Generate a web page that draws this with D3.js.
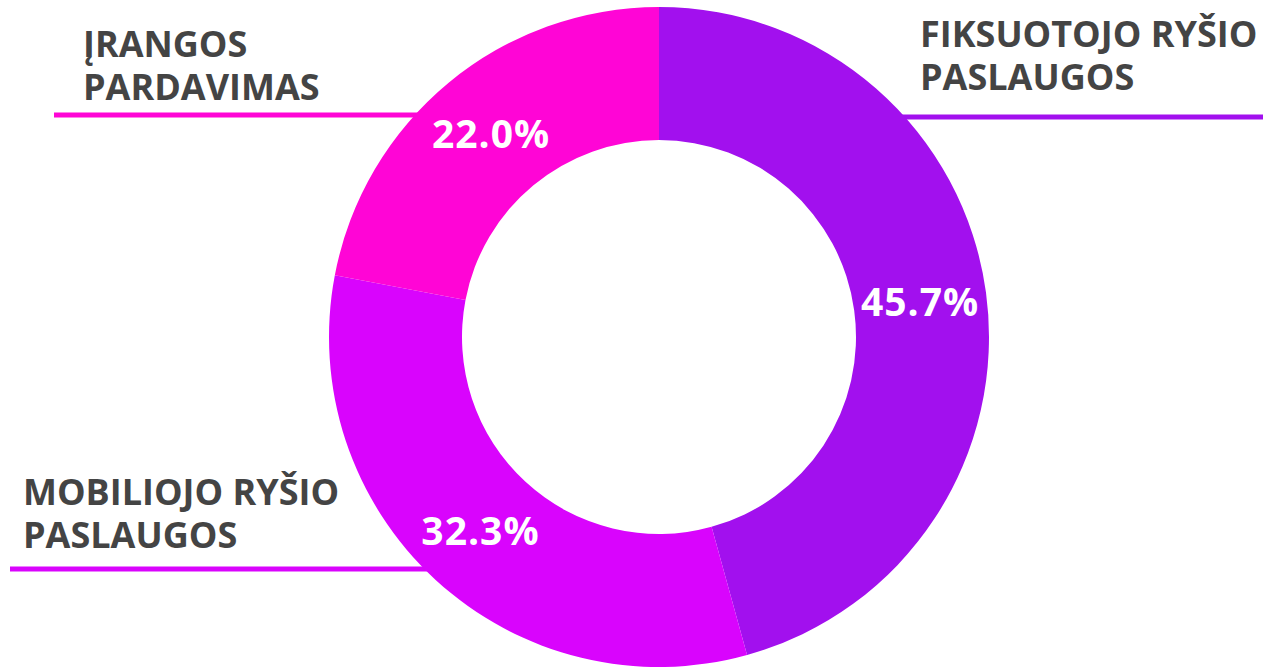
<!DOCTYPE html>
<html>
<head>
<meta charset="utf-8">
<script src="https://cdn.jsdelivr.net/npm/d3@7"></script>
<style>
  body { margin: 0; background: #fff; }
  text { font-family: 'Open Sans', sans-serif; }
</style>
</head>
<body>
<div id="chart"></div>
<script>
// data
const categories = ['FIKSUOTOJO RYŠIO PASLAUGOS', 'MOBILIOJO RYŠIO PASLAUGOS', 'ĮRANGOS PARDAVIMAS']
const shares = [45.7, 32.3, 22.0]
const labelLines = [['FIKSUOTOJO RYŠIO', 'PASLAUGOS'], ['MOBILIOJO RYŠIO', 'PASLAUGOS'], ['ĮRANGOS', 'PARDAVIMAS']]
const colors = ['#a210ee', '#d904fd', '#ff05d6']

let width = 1263
let height = 668

let svg = d3
  .select('#chart')
  .append('svg')
  .attr('width', width)
  .attr('height', height)

const cx = 659
const cy = 337
const outerR = 330
const innerR = 197

const colorScale = d3.scaleOrdinal().domain(categories).range(colors)

const data = categories.map((c, i) => ({ name: c, value: shares[i], lines: labelLines[i] }))

const pie = d3.pie().value(d => d.value).sort(null)
const arc = d3.arc().innerRadius(innerR).outerRadius(outerR)
const arcs = pie(data)

// leader lines (behind the donut)
const callouts = {
  'FIKSUOTOJO RYŠIO PASLAUGOS': { x1: 820, x2: 1263, y: 117, tx: 920, ty: 47 },
  'MOBILIOJO RYŠIO PASLAUGOS': { x1: 10, x2: 520, y: 569, tx: 23, ty: 505 },
  'ĮRANGOS PARDAVIMAS': { x1: 54, x2: 520, y: 115, tx: 83, ty: 57 }
}

svg
  .selectAll('.leader')
  .data(data)
  .enter()
  .append('line')
  .attr('class', 'leader')
  .attr('x1', d => callouts[d.name].x1)
  .attr('x2', d => callouts[d.name].x2)
  .attr('y1', d => callouts[d.name].y)
  .attr('y2', d => callouts[d.name].y)
  .attr('stroke', d => colorScale(d.name))
  .attr('stroke-width', 5)

const g = svg.append('g').attr('transform', `translate(${cx},${cy})`)

g.selectAll('path')
  .data(arcs)
  .enter()
  .append('path')
  .attr('d', arc)
  .attr('fill', d => colorScale(d.data.name))

// percentage labels
g.selectAll('.pct')
  .data(arcs)
  .enter()
  .append('text')
  .attr('class', 'pct')
  .attr('transform', d => `translate(${arc.centroid(d)})`)
  .attr('text-anchor', 'middle')
  .attr('dy', '0.36em')
  .attr('fill', '#fff')
  .attr('font-size', 39)
  .attr('letter-spacing', 1)
  .attr('font-weight', 700)
  .text(d => d.data.value.toFixed(1) + '%')

// category labels
svg
  .selectAll('.cat')
  .data(data)
  .enter()
  .append('text')
  .attr('class', 'cat')
  .attr('x', d => callouts[d.name].tx)
  .attr('y', d => callouts[d.name].ty)
  .attr('fill', '#444')
  .attr('font-size', 36)
  .attr('font-weight', 700)
  .each(function(d) {
    let t = d3.select(this)
    d.lines.forEach((line, i) => {
      t.append('tspan')
        .attr('x', callouts[d.name].tx)
        .attr('dy', i === 0 ? 0 : 43)
        .text(line)
    })
  })
</script>
</body>
</html>
